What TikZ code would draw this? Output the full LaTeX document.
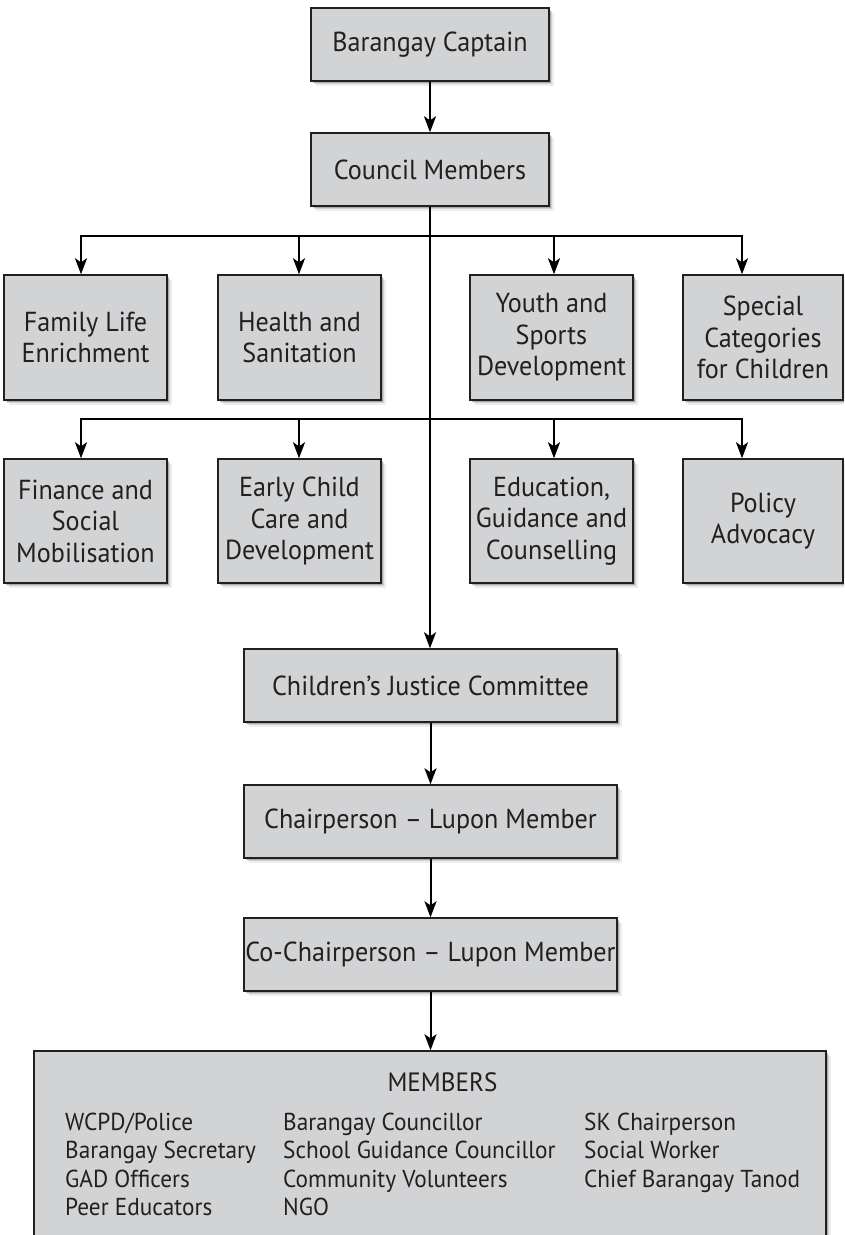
\documentclass[tikz,border=0pt]{standalone}
\usepackage{fontspec}
\setmainfont{PT Sans}[FakeStretch=0.95]
\usetikzlibrary{arrows.meta,shadows}
\definecolor{boxfill}{HTML}{D1D3D4}
\definecolor{ink}{HTML}{231F20}

\begin{document}
\begin{tikzpicture}[x=1pt,y=-1pt,
  softshadow/.style={
    drop shadow={shadow xshift=1.5pt,shadow yshift=-1.5pt,opacity=.18,fill=black},
    drop shadow={shadow xshift=3pt,shadow yshift=-3pt,opacity=.12,fill=black},
    drop shadow={shadow xshift=5pt,shadow yshift=-5pt,opacity=.07,fill=black}},
  box/.style={draw=ink, line width=1.4pt, fill=boxfill, text=ink, softshadow,
    align=center, inner sep=0pt, font=\fontsize{27.5}{31.5}\selectfont},
  headbox/.style={box, minimum width=238pt, minimum height=73pt},
  unitbox/.style={box, minimum width=163pt, minimum height=125pt},
  chainbox/.style={box, minimum width=373pt, minimum height=73pt},
  memtext/.style={text=ink, inner sep=0pt, anchor=base west, font=\fontsize{24.5}{28.5}\selectfont},
  link/.style={draw=black, line width=2pt},
  arr/.style={link, -{Stealth[length=16pt,width=12pt,inset=4pt]}}]

\path[use as bounding box] (0,0) rectangle (844,1235);
\clip (0,0) rectangle (844,1235);

% top of the hierarchy
\node[headbox] (cap) at (430,44.5) {Barangay Captain};
\node[headbox] (cm)  at (430,169.5) {Council Members};

% first row of committees
\node[unitbox] (f1) at (85.5,337.5) {Family Life\\Enrichment};
\node[unitbox] (f2) at (299.5,337.5) {Health and\\Sanitation};
\node[unitbox] (f3) at (551.5,337.5) {Youth and\\Sports\\Development};
\node[unitbox, minimum width=160pt] (f4) at (763,337.5) {Special\\Categories\\for Children};

% second row of committees
\node[unitbox, minimum height=124pt] (s1) at (85.5,521) {Finance and\\Social\\Mobilisation};
\node[unitbox, minimum height=124pt] (s2) at (299.5,521) {Early Child\\Care and\\Development};
\node[unitbox, minimum height=124pt] (s3) at (551.5,521) {Education,\\Guidance and\\Counselling};
\node[unitbox, minimum height=124pt, minimum width=160pt] (s4) at (763,521) {Policy\\Advocacy};

% justice committee chain
\node[chainbox] (cjc) at (430.5,685.5) {Children’s Justice Committee};
\node[chainbox] (ch)  at (430.5,821.5) {Chairperson – Lupon Member};
\node[chainbox] (co)  at (430.5,954.5) {Co-Chairperson – Lupon Member};

% members panel
\node[box, minimum width=792pt, minimum height=200pt] (mem) at (430,1151) {};
\node[text=ink, inner sep=0pt, anchor=base, font=\fontsize{26.5}{28.5}\selectfont] (memh) at (442.5,1091.5) {MEMBERS};
\node[memtext] (m11) at (65,1130) {WCPD/Police};
\node[memtext] (m12) at (65,1158.5) {Barangay Secretary};
\node[memtext] (m13) at (65,1187) {GAD Officers};
\node[memtext] (m14) at (65,1215.5) {Peer Educators};
\node[memtext] (m21) at (283,1130) {Barangay Councillor};
\node[memtext] (m22) at (283,1158.5) {School Guidance Councillor};
\node[memtext] (m23) at (283,1187) {Community Volunteers};
\node[memtext] (m24) at (283,1215.5) {NGO};
\node[memtext] (m31) at (584,1130) {SK Chairperson};
\node[memtext] (m32) at (584,1158.5) {Social Worker};
\node[memtext] (m33) at (584,1187) {Chief Barangay Tanod};

% branch points on the main trunk
\coordinate (j1) at (430,236);
\coordinate (j2) at (430,419);

% connectors
\draw[arr] (cap) -- (cm);
\draw[arr] (cm.south) -- (cm.south |- cjc.north);
\draw[arr] (j1) -| ([xshift=-4.5pt]f1.north);
\draw[arr] (j1) -| ([xshift=-0.5pt]f2.north);
\draw[arr] (j1) -| ([xshift=2.5pt]f3.north);
\draw[arr] (j1) -| ([xshift=-21pt]f4.north);
\draw[arr] (j2) -| ([xshift=-4.5pt]s1.north);
\draw[arr] (j2) -| ([xshift=-0.5pt]s2.north);
\draw[arr] (j2) -| ([xshift=2.5pt]s3.north);
\draw[arr] (j2) -| ([xshift=-21pt]s4.north);
\draw[arr] (cjc) -- (ch);
\draw[arr] (ch) -- (co);
\draw[arr] (co.south) -- (co.south |- mem.north);
\end{tikzpicture}
\end{document}
